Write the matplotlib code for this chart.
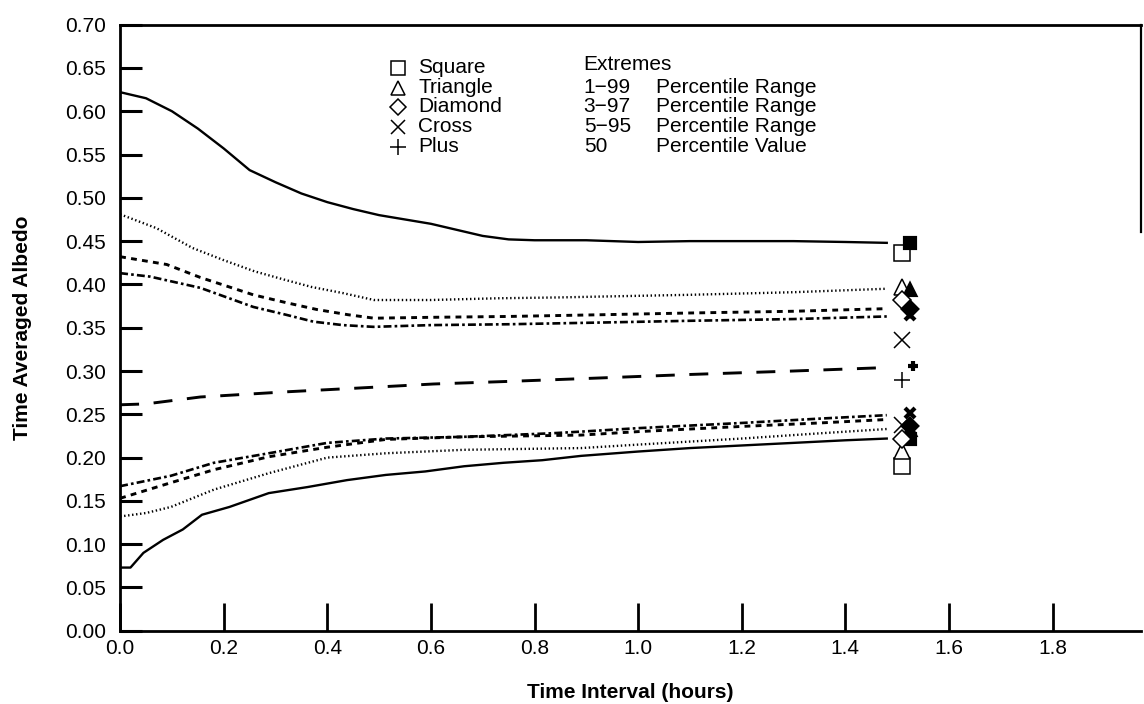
import matplotlib
matplotlib.use("Agg")
import matplotlib.pyplot as plt
from matplotlib import font_manager

# ── Fuente estrecha tipo Helvetica Narrow ─────────────────────────────────────
nombres = {f.name for f in font_manager.fontManager.ttflist}
FUENTE = "Liberation Sans Narrow" if "Liberation Sans Narrow" in nombres else "Liberation Sans"
plt.rcParams["font.family"] = [FUENTE, "DejaVu Sans"]

# ── Datos ─────────────────────────────────────────────────────────────────────
t_ext_hi = [0.0, 0.05, 0.1, 0.15, 0.2, 0.25, 0.3, 0.35, 0.4, 0.45, 0.5, 0.55, 0.6, 0.65, 0.7, 0.75,
            0.8, 0.9, 1.0, 1.1, 1.2, 1.3, 1.4, 1.48]
ext_hi = [0.622, 0.615, 0.600, 0.580, 0.557, 0.532, 0.518, 0.505, 0.495, 0.487, 0.480, 0.475, 0.470,
          0.463, 0.456, 0.452, 0.451, 0.451, 0.449, 0.450, 0.450, 0.450, 0.449, 0.448]

t_p1_hi = [0.0, 0.07, 0.14, 0.2, 0.26, 0.32, 0.37, 0.43, 0.49, 0.6, 0.73, 0.85, 0.93, 1.1, 1.3, 1.48]
p1_hi = [0.481, 0.465, 0.442, 0.428, 0.415, 0.405, 0.397, 0.390, 0.382, 0.382, 0.384, 0.385, 0.386,
         0.388, 0.391, 0.395]

t_p3_hi = [0.0, 0.09, 0.155, 0.257, 0.32, 0.38, 0.44, 0.49, 0.6, 0.75, 0.93, 1.1, 1.3, 1.48]
p3_hi = [0.432, 0.423, 0.408, 0.388, 0.379, 0.371, 0.365, 0.361, 0.362, 0.363, 0.365, 0.367, 0.369, 0.372]

t_p5_hi = [0.0, 0.058, 0.155, 0.257, 0.32, 0.373, 0.43, 0.489, 0.6, 0.75, 0.93, 1.1, 1.3, 1.48]
p5_hi = [0.413, 0.409, 0.396, 0.374, 0.365, 0.357, 0.353, 0.351, 0.353, 0.354, 0.356, 0.358, 0.360, 0.363]

t_med = [0.0, 0.05, 0.155, 0.322, 0.45, 0.605, 0.75, 0.928, 1.1, 1.3, 1.48]
med = [0.261, 0.262, 0.270, 0.276, 0.280, 0.285, 0.288, 0.292, 0.296, 0.300, 0.304]

t_p5_lo = [0.0, 0.098, 0.181, 0.287, 0.4, 0.513, 0.664, 0.83, 0.89, 1.0, 1.2, 1.35, 1.48]
p5_lo = [0.167, 0.179, 0.194, 0.205, 0.217, 0.222, 0.224, 0.228, 0.230, 0.234, 0.240, 0.245, 0.249]

t_p3_lo = [0.0, 0.098, 0.181, 0.287, 0.4, 0.513, 0.664, 0.89, 1.0, 1.2, 1.35, 1.48]
p3_lo = [0.153, 0.171, 0.186, 0.201, 0.212, 0.221, 0.224, 0.226, 0.230, 0.236, 0.240, 0.244]

t_p1_lo = [0.0, 0.05, 0.098, 0.181, 0.287, 0.4, 0.513, 0.664, 0.89, 1.0, 1.2, 1.35, 1.48]
p1_lo = [0.132, 0.136, 0.143, 0.163, 0.182, 0.200, 0.205, 0.209, 0.211, 0.215, 0.222, 0.228, 0.233]

t_ext_lo = [0.0, 0.02, 0.045, 0.083, 0.121, 0.158, 0.211, 0.287, 0.362, 0.438, 0.513, 0.589, 0.664,
            0.74, 0.815, 0.89, 1.0, 1.1, 1.2, 1.3, 1.4, 1.48]
ext_lo = [0.073, 0.073, 0.090, 0.105, 0.117, 0.134, 0.143, 0.159, 0.166, 0.174, 0.180, 0.184, 0.190,
          0.194, 0.197, 0.202, 0.207, 0.211, 0.214, 0.217, 0.220, 0.222]

# Marcadores al final (hueco a 1.51 h, grueso a 1.525 h)
MARCADORES = ["s", "^", "D", "x", "+"]
TAM_HUECO = {"s": 11, "^": 11, "D": 9, "x": 11, "+": 12}
hueco_x = [1.51, 1.51, 1.51, 1.51, 1.51]
hueco_hi = [0.436, 0.397, 0.382, 0.336, 0.290]
hueco_lo = [0.190, 0.208, 0.222, 0.238, None]
grueso_x = [1.525, 1.525, 1.525, 1.525, 1.53]
grueso_hi = [0.448, 0.393, 0.372, 0.365, 0.306]
grueso_lo = [0.222, 0.232, 0.236, 0.251, None]

leyenda_nombres = ["Square", "Triangle", "Diamond", "Cross", "Plus"]
leyenda_rango = ["Extremes", "1\u221299", "3\u221297", "5\u221295", "50"]
leyenda_desc = ["", "Percentile Range", "Percentile Range", "Percentile Range", "Percentile Value"]

x_ticks = [0.0, 0.2, 0.4, 0.6, 0.8, 1.0, 1.2, 1.4, 1.6, 1.8]
y_ticks = [0.00, 0.05, 0.10, 0.15, 0.20, 0.25, 0.30, 0.35, 0.40, 0.45, 0.50, 0.55, 0.60, 0.65, 0.70]

# ── Estilos de línea ──────────────────────────────────────────────────────────
NEGRO = "black"
EST_EXT = dict(color=NEGRO, lw=1.7, ls="-")
EST_P1 = dict(color=NEGRO, lw=1.7, ls=(0, (0.6, 1.1)))
EST_P3 = dict(color=NEGRO, lw=2.1, ls=(0, (2.0, 1.8)))
EST_P5 = dict(color=NEGRO, lw=1.9, ls=(0, (3.0, 1.2, 1.0, 1.2)))
EST_MED = dict(color=NEGRO, lw=2.1, ls=(0, (6.5, 5.0)))

fig = plt.figure(figsize=(11.44, 7.04), dpi=100)
ax = fig.add_axes([0.105, 0.104, 0.892, 0.861])

ax.plot(t_ext_hi, ext_hi, **EST_EXT)
ax.plot(t_p1_hi, p1_hi, **EST_P1)
ax.plot(t_p3_hi, p3_hi, **EST_P3)
ax.plot(t_p5_hi, p5_hi, **EST_P5)
ax.plot(t_med, med, **EST_MED)
ax.plot(t_p5_lo, p5_lo, **EST_P5)
ax.plot(t_p3_lo, p3_lo, **EST_P3)
ax.plot(t_p1_lo, p1_lo, **EST_P1)
ax.plot(t_ext_lo, ext_lo, **EST_EXT)

for i, m in enumerate(MARCADORES):
    for xs, ys, gr in ((hueco_x, hueco_hi, False), (hueco_x, hueco_lo, False),
                       (grueso_x, grueso_hi, True), (grueso_x, grueso_lo, True)):
        if ys[i] is None:
            continue
        if gr:
            ax.plot(xs[i], ys[i], marker=m, ms=7, mfc=NEGRO if m in "s^D" else "none",
                    mec=NEGRO, mew=3.0, ls="none", clip_on=False)
        else:
            ax.plot(xs[i], ys[i], marker=m, ms=TAM_HUECO[m], mfc="white", mec=NEGRO, mew=1.1,
                    ls="none", clip_on=False)

# ── Leyenda escrita ───────────────────────────────────────────────────────────
fila_y = [0.650, 0.627, 0.605, 0.582, 0.559]
for i, m in enumerate(MARCADORES):
    ax.plot(0.537, fila_y[i], marker=m, ms=TAM_HUECO[m] - 1, mfc="white", mec=NEGRO, mew=1.1,
            ls="none")
    ax.text(0.576, fila_y[i], leyenda_nombres[i], fontsize=15, va="center", ha="left")
    ax.text(0.895, fila_y[i] + (0.004 if i == 0 else 0), leyenda_rango[i], fontsize=15,
            va="center", ha="left")
    ax.text(1.034, fila_y[i], leyenda_desc[i], fontsize=15, va="center", ha="left")

# ── Ejes ──────────────────────────────────────────────────────────────────────
ax.set_xlim(0, 1.97)
ax.set_ylim(0, 0.70)
ax.set_xticks(x_ticks)
ax.set_xticklabels([f"{v:.1f}" for v in x_ticks], fontsize=15)
ax.set_yticks(y_ticks)
ax.set_yticklabels([f"{v:.2f}" for v in y_ticks], fontsize=15)
ax.tick_params(axis="y", direction="in", length=16, width=2.2, pad=10)
ax.tick_params(axis="x", direction="in", length=20, width=2.0, pad=6)
for lado in ("left", "bottom", "top"):
    ax.spines[lado].set_linewidth(2.0)
ax.spines["right"].set_linewidth(1.6)
ax.spines["right"].set_bounds(0.46, 0.70)

ax.set_xlabel("Time Interval (hours)", fontsize=15, fontweight="bold", labelpad=18)
ax.set_ylabel("Time Averaged Albedo", fontsize=15, fontweight="bold")
ax.yaxis.set_label_coords(-0.086, 0.5)

fig.savefig("out.png", dpi=100)
